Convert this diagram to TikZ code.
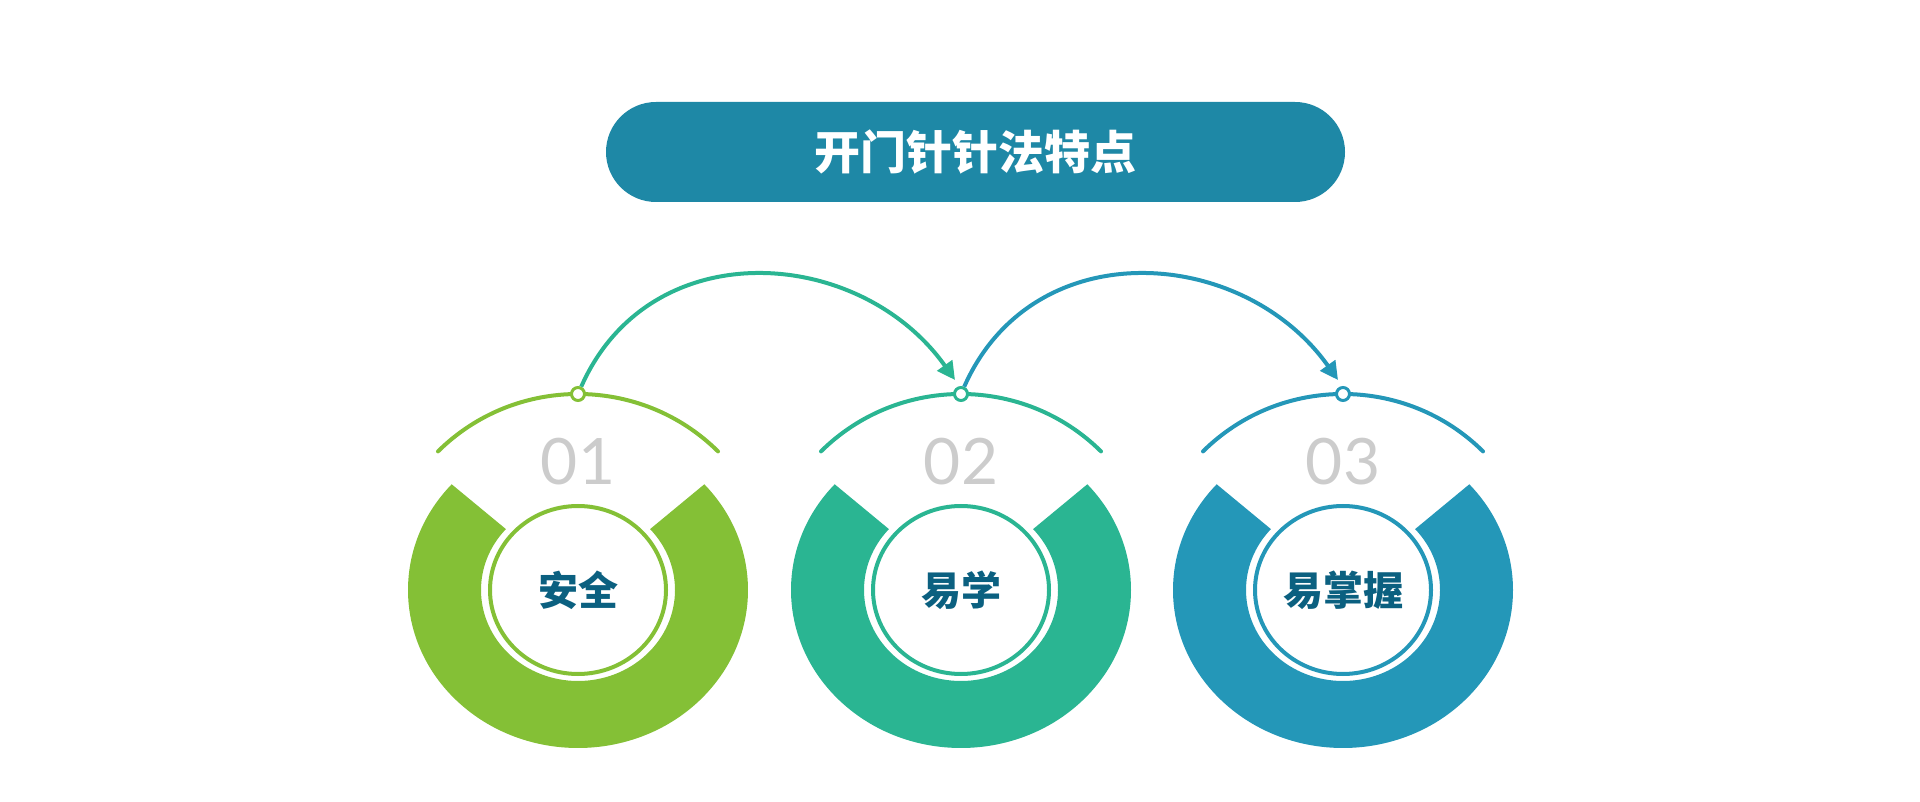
\documentclass[tikz,border=0pt]{standalone}
\usepackage{fontspec}
\newfontfamily\cjk{Noto Sans CJK SC}
\newfontfamily\numfont{Lato}
\usetikzlibrary{arrows.meta,calc}
\definecolor{cgreen}{HTML}{84C036}
\definecolor{cteal}{HTML}{2AB592}
\definecolor{cblue}{HTML}{2497B8}
\definecolor{ctitle}{HTML}{1E88A6}
\definecolor{clabel}{HTML}{0B6080}
\tikzset{
  dotnode/.style={circle,draw=#1,fill=white,line width=3pt,inner sep=0pt,minimum size=13pt},
  jump/.style={draw=#1,line width=4pt,-{Triangle[length=18pt,width=18pt]}}
}
\begin{document}
\begin{tikzpicture}[x=1pt,y=1pt]
  \useasboundingbox (0,0) rectangle (1920,801);
  \fill[ctitle,rounded corners=50pt] (606,599) rectangle (1345,699);
  \node[text=white,font=\cjk\bfseries\fontsize{46}{50}\selectfont] (title) at (975.5,649) {开门针针法特点};

  \foreach \x/\c/\n/\t [count=\i] in {578/cgreen/01/安全, 961/cteal/02/易学, 1343/cblue/03/易掌握}{
    \coordinate (c\i) at (\x,211);
    % broken ring
    \fill[\c] ($(c\i)+(138:170 and 158)$) arc[start angle=138,end angle=402,x radius=170,y radius=158]
      -- ($(c\i)+(42:97 and 91)$) arc[start angle=42,end angle=-222,x radius=97,y radius=91] -- cycle;
    \draw[\c,line width=4pt] (c\i) ellipse[x radius=88,y radius=84];
    % top arc
    \draw[\c,line width=4pt,line cap=round] ($(c\i)+(45:198 and 196)$) arc[start angle=45,end angle=135,x radius=198,y radius=196];
    \node[dotnode=\c] (d\i) at ($(c\i)+(0,196)$) {};
    \node[text=black!20,font=\numfont\fontsize{64}{64}\selectfont] (n\i) at ($(c\i)+(0,128)$) {\n};
    \node[text=clabel,font=\cjk\bfseries\fontsize{40}{44}\selectfont] (l\i) at (c\i) {\t};
  }
  \coordinate (t2) at (955,421);
  \coordinate (t3) at (1338,421);
  \draw[jump=cteal] (d1) .. controls (650,570) and (860,555) .. (t2);
  \draw[jump=cblue] (d2) .. controls (1033,570) and (1243,555) .. (t3);
\end{tikzpicture}
\end{document}
